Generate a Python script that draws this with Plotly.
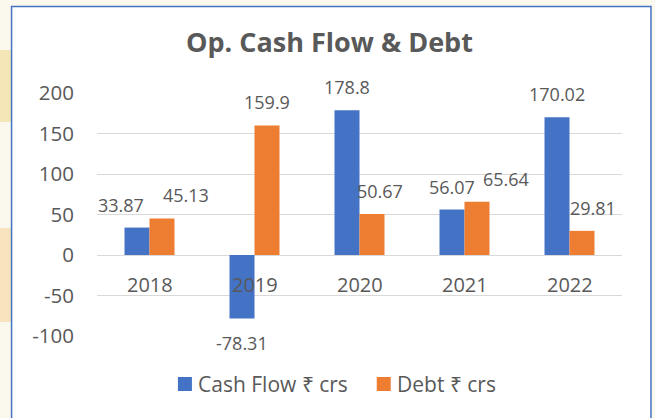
import plotly.graph_objects as go

years = ["2018", "2019", "2020", "2021", "2022"]
cash_flow = [33.87, -78.31, 178.8, 56.07, 170.02]
debt = [45.13, 159.9, 50.67, 65.64, 29.81]
y_ticks = [-100, -50, 0, 50, 100, 150, 200]
series_names = ["Cash Flow ₹ crs", "Debt ₹ crs"]

BLUE = "#4472C4"
ORANGE = "#ED7D31"
TEXT = "#595959"
FONT = "Open Sans"

W, H = 655, 418
L, R, T, B = 97, 32.5, 93, 82
pw = W - L - R
ph = H - T - B

def px(x):
    return (x - L) / pw

def py(y):
    return (H - B - y) / ph

fig = go.Figure()
fig.add_trace(go.Bar(x=years, y=cash_flow, name=series_names[0], marker_color=BLUE,
                     marker_line_width=0))
fig.add_trace(go.Bar(x=years, y=debt, name=series_names[1], marker_color=ORANGE,
                     marker_line_width=0))

# data labels (style offsets kept separate from data)
cash_dx = [-16, 0, 0, 0, 0]
debt_dx = [24, 0, 8, 29, 11]
annotations = []
for i, yr in enumerate(years):
    for vals, off, dxs in ((cash_flow, -12.5, cash_dx), (debt, 12.5, debt_dx)):
        v = vals[i]
        annotations.append(dict(
            x=i, y=v, xref="x", yref="y", text=f"{v:g}",
            showarrow=False, xshift=off + dxs[i], yshift=(23 if v >= 0 else -25),
            font=dict(family=FONT, size=18, color=TEXT), xanchor="center", yanchor="middle"))
    annotations.append(dict(
        x=i, y=0, xref="x", yref="y", text=yr, showarrow=False, yshift=-29,
        font=dict(family=FONT, size=20, color=TEXT), xanchor="center", yanchor="middle"))

annotations.append(dict(
    x=px(330), y=py(41), xref="paper", yref="paper", text="<b>Op. Cash Flow &amp; Debt</b>",
    showarrow=False, font=dict(family=FONT, size=27, color=TEXT), xanchor="center", yanchor="middle"))

# manual legend
legend_items = [(series_names[0], BLUE, 178), (series_names[1], ORANGE, 377)]
shapes = [
    dict(type="rect", xref="paper", yref="paper", x0=px(-5), x1=px(11), y0=py(50), y1=py(122),
         fillcolor="#F5E6B8", line_width=0, layer="below"),
    dict(type="rect", xref="paper", yref="paper", x0=px(-5), x1=px(11), y0=py(228), y1=py(322),
         fillcolor="#F7E3BE", line_width=0, layer="below"),
    dict(type="rect", xref="paper", yref="paper", x0=px(11.5), x1=px(651.5), y0=py(6.5), y1=py(430),
         fillcolor="white", line=dict(color=BLUE, width=1.5), layer="below"),
]
for name, col, x0 in legend_items:
    shapes.append(dict(type="rect", xref="paper", yref="paper", x0=px(x0), x1=px(x0 + 14),
                       y0=py(391), y1=py(377), fillcolor=col, line_width=0))
    annotations.append(dict(x=px(x0 + 18), y=py(384), xref="paper", yref="paper", text=name,
                            showarrow=False, xanchor="left", yanchor="middle",
                            font=dict(family=FONT, size=21, color=TEXT)))

fig.update_layout(
    width=W, height=H,
    margin=dict(l=L, r=R, t=T, b=B, pad=0),
    paper_bgcolor="#FBF8EE",
    plot_bgcolor="rgba(0,0,0,0)",
    barmode="group",
    bargap=0.524,
    bargroupgap=0,
    showlegend=False,
    xaxis=dict(type="category", range=[-0.5, 4.5], showticklabels=False, showgrid=False,
               zeroline=False, showline=False, ticks=""),
    yaxis=dict(range=[-100, 200], tickvals=y_ticks, ticktext=[str(t) for t in y_ticks],
               showgrid=True, gridcolor="#D9D9D9",
               gridwidth=1, zeroline=True, zerolinecolor="#D9D9D9", zerolinewidth=1,
               showline=False, ticks="", ticklabelstandoff=22,
               tickfont=dict(family=FONT, size=20.5, color=TEXT)),
    annotations=annotations,
    shapes=shapes,
)

fig.write_html("out.html", config={"displayModeBar": False},
               post_script="document.body.style.margin='0';document.body.style.padding='0';")
